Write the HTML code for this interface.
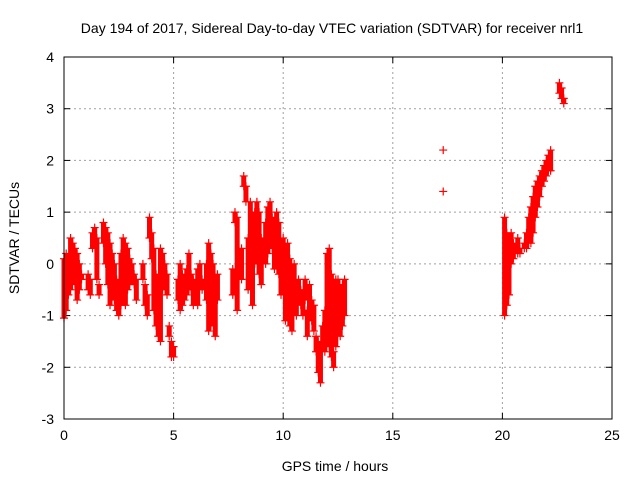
<!DOCTYPE html>
<html><head><meta charset="utf-8"><style>
body{margin:0;background:#fff}
svg{display:block;font-family:"Liberation Sans",sans-serif}
</style></head><body>
<svg id="c" width="640" height="480"></svg>
<script>
const times=[0.0,0.1,0.2,0.3,0.4,0.5,0.6,0.7,0.8,1.1,1.2,1.3,1.4,1.5,1.6,1.8,1.9,2.0,2.1,2.2,2.3,2.4,2.5,2.6,2.7,2.8,2.9,3.0,3.1,3.2,3.3,3.6,3.7,3.8,3.9,4.0,4.1,4.2,4.3,4.4,4.5,4.6,4.7,4.8,4.9,5.0,5.2,5.3,5.4,5.5,5.6,5.7,5.8,5.9,6.0,6.1,6.2,6.3,6.5,6.6,6.7,6.8,6.9,7.0,7.7,7.8,7.9,8.1,8.2,8.3,8.4,8.5,8.6,8.7,8.8,8.9,9.0,9.1,9.2,9.3,9.4,9.5,9.6,9.7,9.8,9.9,10.0,10.1,10.2,10.3,10.4,10.5,10.6,10.7,10.8,10.9,11.0,11.1,11.2,11.3,11.4,11.5,11.6,11.7,11.8,11.9,12.0,12.1,12.2,12.3,12.4,12.5,12.6,12.7,12.8,17.3,20.1,20.2,20.3,20.4,20.5,20.7,20.8,21.0,21.1,21.2,21.3,21.4,21.5,21.6,21.7,21.8,21.9,22.0,22.1,22.2,22.6,22.7,22.8];
const upper=[0.1,0.2,0.0,0.5,0.4,0.3,0.2,0.0,-0.2,-0.2,-0.3,0.6,0.7,0.5,-0.4,0.8,0.7,0.6,0.4,0.2,0.0,-0.3,-0.5,0.2,0.5,0.4,0.3,0.1,0.0,-0.2,-0.3,0.0,-0.4,-0.6,0.9,0.6,0.3,-0.2,-0.6,0.3,0.2,0.0,-0.2,-1.2,-1.5,-1.6,-0.3,0.0,-0.2,-0.4,-0.1,0.2,-0.2,-0.3,-0.4,-0.1,0.0,-0.3,0.0,0.4,0.2,0.0,-0.5,-0.2,-0.1,1.0,0.9,0.3,1.7,1.5,0.5,1.2,0.8,1.0,1.2,1.0,0.5,0.3,0.8,1.1,1.2,0.9,0.6,1.0,0.8,0.3,0.5,0.2,0.4,0.1,-0.5,0.0,-0.4,-0.3,-0.5,-0.6,-0.3,-0.9,-0.4,-0.7,-0.8,-1.4,-1.5,-1.6,-1.2,-0.9,0.2,0.3,-0.2,-1.7,-0.3,-0.3,-0.9,-0.4,-0.3,2.2,0.9,0.6,0.4,0.6,0.4,0.5,0.3,0.4,0.6,0.9,1.1,1.3,1.5,1.6,1.7,1.8,1.9,2.0,2.1,2.2,3.5,3.4,3.2];
const lower=[-1.05,-0.9,-0.6,-0.5,-0.3,-0.4,-0.7,-0.5,-0.3,-0.5,-0.6,0.3,0.4,-0.3,-0.6,0.4,0.0,-0.4,-0.8,-0.6,-0.7,-0.9,-1.0,-0.8,-0.6,-0.8,-0.5,-0.4,-0.2,-0.4,-0.7,-0.3,-0.8,-1.0,0.5,0.1,-0.9,-1.2,-1.4,-1.5,-0.5,-0.3,-0.6,-1.4,-1.8,-1.8,-0.7,-0.9,-0.8,-0.7,-0.6,-0.5,-0.5,-0.8,-0.6,-0.8,-0.4,-0.5,-0.7,-1.3,-1.2,-0.9,-1.4,-0.7,-0.6,0.8,-0.9,-0.3,1.5,1.2,-0.5,-0.4,-0.8,0.0,0.5,-0.2,-0.4,0.1,0.0,0.2,0.6,0.3,-0.1,0.3,-0.2,-0.6,-0.3,-1.1,-0.9,-1.2,-1.3,-0.6,-1.0,-0.6,-0.8,-1.0,-0.7,-1.4,-0.9,-1.1,-1.3,-1.7,-2.1,-2.3,-1.6,-1.7,-1.5,-1.6,-1.8,-2.0,-1.6,-1.3,-1.4,-1.2,-1.0,1.4,-1.0,-0.8,-0.6,0.0,0.1,0.2,0.2,0.3,0.3,0.4,0.4,0.6,0.9,1.1,1.3,1.5,1.6,1.7,1.8,1.8,3.3,3.2,3.1];
const xTicks=[0,5,10,15,20,25];
const yTicks=[-3,-2,-1,0,1,2,3,4];
const NS='http://www.w3.org/2000/svg';
const svg=document.getElementById('c');
const L=64,R=612,T=57,B=419;
const xs=v=>L+(v-0)/(25-0)*(R-L);
const ys=v=>B-(v+3)/(7)*(B-T);
function mk(tag,attrs,parent){const e=document.createElementNS(NS,tag);for(const k in attrs)e.setAttribute(k,attrs[k]);(parent||svg).appendChild(e);return e;}
const grid=mk('g',{});


xTicks.forEach(t=>{
  if(t>0&&t<25){const g=mk('line',{x1:xs(t),x2:xs(t),y1:T,y2:B,stroke:'#a0a0a0','stroke-dasharray':'2,3'},grid);}
  const tl=mk('text',{x:xs(t),y:B+21,'font-size':14,'text-anchor':'middle',fill:'#000'});tl.textContent=t;
  
  
  mk('line',{x1:xs(t),x2:xs(t),y1:B,y2:B-6,stroke:'#000'});mk('line',{x1:xs(t),x2:xs(t),y1:T,y2:T+6,stroke:'#000'});
});
yTicks.forEach(t=>{
  if(t>-3&&t<4){const g=mk('line',{x1:L,x2:R,y1:ys(t),y2:ys(t),stroke:'#a0a0a0','stroke-dasharray':'2,3'},grid);}
  const tl=mk('text',{x:L-10,y:ys(t)+5,'font-size':14,'text-anchor':'end',fill:'#000'});tl.textContent=t;
  
  
  mk('line',{x1:L,x2:L+6,y1:ys(t),y2:ys(t),stroke:'#000'});mk('line',{x1:R,x2:R-6,y1:ys(t),y2:ys(t),stroke:'#000'});
});
const series=mk('g',{stroke:'#f00','stroke-width':1.2});


times.forEach((t,i)=>{
  const x=xs(t);
  if(upper[i]-lower[i]>0.05 && t!==17.3){const r=mk('line',{x1:x,x2:x,y1:ys(upper[i]),y2:ys(lower[i]),'stroke-width':5},series);}
  [upper[i],lower[i]].forEach(v=>{
    const y=ys(v);
    const p=mk('path',{d:`M${x-4},${y}h8M${x},${y-4}v8`},series);
    
    
  });
});
const fr=mk('rect',{x:L,y:T,width:R-L,height:B-T,fill:'none',stroke:'#000'});


const ti=mk('text',{x:332,y:33,'font-size':14,'text-anchor':'middle'});ti.textContent='Day 194 of 2017, Sidereal Day-to-day VTEC variation (SDTVAR) for receiver nrl1';


const xl=mk('text',{x:335,y:471,'font-size':14,'text-anchor':'middle'});xl.textContent='GPS time / hours';


const yl=mk('text',{x:0,y:0,'font-size':14,'text-anchor':'middle',transform:'translate(19,238) rotate(-90)'});yl.textContent='SDTVAR / TECUs';


</script>
</body></html>
